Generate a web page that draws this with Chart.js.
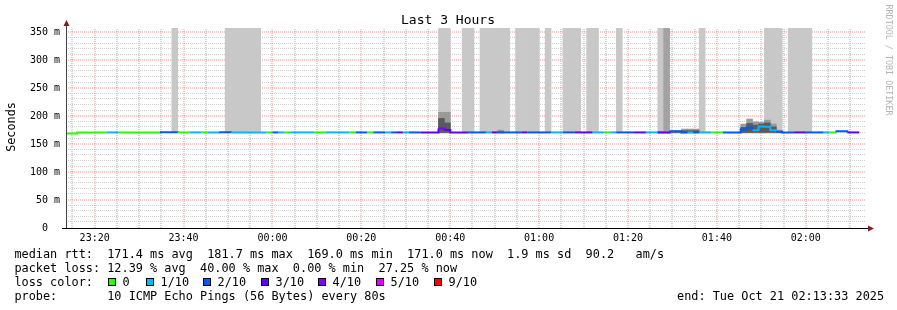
<!DOCTYPE html>
<html>
<head>
<meta charset="utf-8">
<title>Last 3 Hours</title>
<script src="https://cdn.jsdelivr.net/npm/chart.js@4"></script>
<style>
  html, body { margin: 0; padding: 0; background: #fff; }
  canvas { display: block; }
</style>
</head>
<body>
<canvas id="smoke" width="897" height="310"></canvas>
<script>
// times are minutes after 23:00 (Oct 20), one rrd step is 80 s
const axisStart = 13 + 33 / 60;   // 23:13:33
const axisEnd = axisStart + 180;  // 02:13:33
const firstStep = 13.36;
const stepLen = 80 / 60;

const timeTickMin = [20, 40, 60, 80, 100, 120, 140, 160, 180];
const timeTicks = ['23:20', '23:40', '00:00', '00:20', '00:40', '01:00', '01:20', '01:40', '02:00'];
const rttTickVals = [0, 50, 100, 150, 200, 250, 300, 350];
const rttTicks = ['0  ', '50 m', '100 m', '150 m', '200 m', '250 m', '300 m', '350 m'];

// lost pings (out of 10) per step
const lossCount = [
  0, 0, 0, 0, 0, 0, 0, 1, 1, 0,
  0, 0, 0, 0, 0, 0, 2, 2, 2, 0,
  0, 1, 1, 0, 1, 1, 2, 2, 1, 1,
  1, 1, 1, 1, 0, 2, 1, 0, 1, 1,
  1, 1, 0, 0, 1, 1, 1, 1, 0, 2,
  2, 0, 2, 2, 1, 2, 3, 1, 2, 2,
  3, 3, 3, 4, 3, 3, 3, 3, 2, 2,
  2, 1, 3, 2, 2, 2, 2, 3, 2, 2,
  2, 2, 1, 1, 2, 2, 3, 3, 3, 1,
  1, 0, 1, 2, 2, 2, 3, 3, 1, 1,
  3, 3, 2, 2, 2, 1, 2, 1, 1, 0,
  0, 2, 2, 2, 2, 2, 1, 1, 1, 1,
  2, 2, 2, 3, 3, 2, 2, 2, 1, 0,
  2, 2, 3, 3
];

// median rtt (ms) per step
const medianRtt = [
  169.0, 169.0, 171.0, 171.0, 171.0, 171.0, 171.0, 171.0, 171.0, 171.0,
  171.0, 171.0, 171.0, 171.0, 171.0, 171.0, 171.2, 171.2, 171.2, 171.0,
  171.0, 171.0, 171.0, 171.0, 171.0, 171.0, 171.2, 171.2, 171.0, 171.0,
  171.0, 171.0, 171.0, 171.0, 171.0, 171.0, 171.0, 171.0, 171.0, 171.0,
  171.0, 171.0, 171.0, 171.0, 171.0, 171.0, 171.0, 171.0, 171.0, 171.0,
  171.0, 171.0, 171.0, 171.0, 171.0, 171.0, 171.0, 171.0, 171.0, 171.0,
  171.0, 171.0, 171.0, 178.0, 175.5, 171.0, 171.0, 171.0, 171.0, 171.0,
  171.0, 171.0, 171.0, 171.0, 171.0, 171.0, 171.0, 171.0, 171.0, 171.0,
  171.0, 171.0, 171.0, 171.0, 171.0, 171.0, 171.0, 171.0, 171.0, 171.0,
  171.0, 171.0, 171.0, 171.0, 171.0, 171.0, 171.0, 171.0, 171.0, 171.0,
  171.0, 171.0, 173.0, 173.0, 171.0, 171.0, 171.0, 171.0, 171.0, 171.0,
  171.0, 171.0, 171.0, 171.0, 176.0, 180.0, 175.0, 181.7, 181.0, 175.0,
  172.0, 171.0, 171.0, 171.0, 171.0, 171.0, 171.0, 171.0, 171.0, 171.0,
  173.0, 173.0, 171.0, 171.0
];

// steps whose smoke reaches above the top of the graph
const tallSmokeSteps = [18, 27, 28, 29, 30, 31, 32, 63, 64, 67, 68, 70, 71, 72, 73, 74,
  76, 77, 78, 79, 81, 84, 85, 86, 88, 89, 93, 100, 107, 118, 119, 120, 122, 123, 124, 125];
const darkSmokeSteps = [101];

// ping spread (ms) around the median
const smokeSteps = [63, 64, 73, 100, 101, 102, 103, 104, 105, 106, 114, 115, 116, 117, 118, 119, 120];
const smokeLow = [170, 170, 170, 170, 170, 170, 170, 170, 170, 170, 170, 170, 170, 170, 170, 170, 170];
const smokeHigh = [207, 207, 175, 173, 173, 174, 174, 177, 177, 177, 186, 195, 190, 189, 193, 186, 175];
const coreHigh = [196, 188, 172, 171, 171, 172, 172, 174, 174, 174, 180, 187, 184, 186, 188, 181, 173];

const lossLabels = ['0', '1/10', '2/10', '3/10', '4/10', '5/10', '9/10'];
const lossColors = ['#26ff00', '#00b8ff', '#0059ff', '#5e00ff', '#7e00ff', '#dd00ff', '#ff0000'];

const mono = '"DejaVu Sans Mono", monospace';
const stepMid = k => firstStep + (k + 0.5) * stepLen;

const lineData = medianRtt.map((v, k) => ({ x: firstStep + k * stepLen, y: v }));
lineData.push({ x: firstStep + medianRtt.length * stepLen, y: medianRtt[medianRtt.length - 1] });

// rrdtool style dotted grid, placed with the chart scales
const rrdGrid = {
  id: 'rrdGrid',
  beforeDatasetsDraw(chart) {
    const c = chart.ctx;
    const a = chart.chartArea;
    const xs = chart.scales.x;
    const ys = chart.scales.y;
    c.save();
    c.lineWidth = 1;
    c.setLineDash([1, 1]);
    const vline = (m, col) => {
      const px = Math.round(xs.getPixelForValue(m));
      c.strokeStyle = col;
      c.beginPath();
      c.moveTo(px, a.bottom);
      c.lineTo(px, a.top);
      c.stroke();
    };
    const hline = (v, col, shift) => {
      const py = Math.round(ys.getPixelForValue(v)) + shift;
      c.strokeStyle = col;
      c.beginPath();
      c.moveTo(a.left, py);
      c.lineTo(a.right, py);
      c.stroke();
    };
    const minor = 'rgba(143,143,143,0.75)';
    const major = 'rgba(222,79,79,0.6)';
    for (let m = 15; m < axisEnd; m += 5) if (!timeTickMin.includes(m)) vline(m, minor);
    for (let v = 10; v <= 350; v += 10) if (!rttTickVals.includes(v)) hline(v, '#d0d0d0', -0.5);
    timeTickMin.forEach(m => vline(m, major));
    rttTickVals.forEach(v => { if (v > 0) hline(v, major, 0); });
    c.restore();
  }
};

const extras = {
  id: 'extras',
  beforeDraw(chart) {
    const c = chart.ctx;
    c.save();
    c.fillStyle = '#fff';
    c.fillRect(0, 0, chart.width, chart.height);
    c.restore();
  },
  afterDraw(chart) {
    const c = chart.ctx;
    const a = chart.chartArea;
    c.save();
    // axis extensions and arrows
    c.strokeStyle = '#000';
    c.lineWidth = 1;
    c.beginPath();
    c.moveTo(62, a.bottom + 0.5);
    c.lineTo(a.right + 3, a.bottom + 0.5);
    c.stroke();
    c.strokeStyle = '#444';
    c.beginPath();
    c.moveTo(a.left + 0.5, a.bottom);
    c.lineTo(a.left + 0.5, a.top - 5);
    c.stroke();
    c.fillStyle = '#801f1f';
    c.beginPath();
    c.moveTo(a.left - 2.5, a.top - 2);
    c.lineTo(a.left + 3.5, a.top - 2);
    c.lineTo(a.left + 0.5, a.top - 8);
    c.closePath();
    c.fill();
    c.beginPath();
    c.moveTo(a.right + 2, a.bottom - 2.5);
    c.lineTo(a.right + 2, a.bottom + 3.5);
    c.lineTo(a.right + 8, a.bottom + 0.5);
    c.closePath();
    c.fill();

    // title
    c.fillStyle = '#000';
    c.font = '13px ' + mono;
    c.textAlign = 'center';
    c.textBaseline = 'alphabetic';
    c.fillText('Last 3 Hours', 448, 24);

    // y title
    c.save();
    c.translate(15, 127);
    c.rotate(-Math.PI / 2);
    c.font = '11.8px ' + mono;
    c.fillText('Seconds', 0, 0);
    c.restore();

    // watermark
    c.save();
    c.translate(886, 60);
    c.rotate(Math.PI / 2);
    c.font = '8.4px ' + mono;
    c.fillStyle = '#b4b4b4';
    c.fillText('RRDTOOL / TOBI OETIKER', 0, 0);
    c.restore();

    // legend
    c.font = '11.86px ' + mono;
    c.textAlign = 'left';
    c.fillStyle = '#000';
    const x0 = 14.4;
    c.fillText('median rtt:  171.4 ms avg  181.7 ms max  169.0 ms min  171.0 ms now  1.9 ms sd  90.2   am/s', x0, 258);
    c.fillText('packet loss: 12.39 % avg  40.00 % max  0.00 % min  27.25 % now', x0, 272);
    c.fillText('loss color:', x0, 286);
    c.fillText('probe:       10 ICMP Echo Pings (56 Bytes) every 80s', x0, 300);
    c.fillText('end: Tue Oct 21 02:13:33 2025', 677, 300);

    const boxX = [108, 146, 203, 261, 318, 376, 434];
    lossLabels.forEach((lbl, i) => {
      c.fillStyle = lossColors[i];
      c.fillRect(boxX[i] + 0.5, 278.5, 7, 7);
      c.strokeStyle = '#000';
      c.strokeRect(boxX[i] + 0.5, 278.5, 7, 7);
      c.fillStyle = '#000';
      c.fillText(lbl, boxX[i] + 14.5, 286);
    });
    c.restore();
  }
};

const tickFont = { family: mono, size: 10 };

new Chart(document.getElementById('smoke'), {
  type: 'line',
  data: {
    datasets: [
      {
        type: 'line',
        order: 0,
        data: lineData,
        stepped: 'before',
        borderWidth: 2,
        borderCapStyle: 'butt',
        pointRadius: 0,
        borderColor: lossColors[0],
        segment: {
          borderColor: ctx => lossColors[lossCount[ctx.p0DataIndex]] || lossColors[0]
        }
      },
      {
        type: 'bar',
        order: 1,
        data: smokeSteps.map((k, i) => ({ x: stepMid(k), y: [smokeLow[i] + 1, coreHigh[i]] })),
        backgroundColor: '#5a5a5a'
      },
      {
        type: 'bar',
        order: 2,
        data: smokeSteps.map((k, i) => ({ x: stepMid(k), y: [smokeLow[i], smokeHigh[i]] })),
        backgroundColor: '#9a9a9a'
      },
      {
        type: 'bar',
        order: 3,
        data: darkSmokeSteps.map(k => ({ x: stepMid(k), y: [171, 360] })),
        backgroundColor: '#a2a2a2'
      },
      {
        type: 'bar',
        order: 4,
        data: tallSmokeSteps.map(k => ({ x: stepMid(k), y: [171, 360] })),
        backgroundColor: '#c8c8c8'
      }
    ]
  },
  options: {
    responsive: false,
    animation: false,
    devicePixelRatio: 1,
    datasets: {
      bar: { grouped: false, barPercentage: 1, categoryPercentage: 1, borderWidth: 0 }
    },
    layout: { padding: { left: 0, right: 31, top: 28, bottom: 0 } },
    plugins: { legend: { display: false }, tooltip: { enabled: false }, title: { display: false } },
    scales: {
      x: {
        type: 'linear',
        position: 'bottom',
        min: axisStart,
        max: axisEnd,
        offset: false,
        afterFit: s => { s.height = 82; },
        afterBuildTicks: s => { s.ticks = timeTickMin.map(v => ({ value: v })); },
        grid: { display: false, drawTicks: false },
        border: { display: false },
        ticks: {
          autoSkip: false,
          maxRotation: 0,
          padding: 4,
          color: '#000',
          font: tickFont,
          callback: v => timeTicks[timeTickMin.indexOf(v)]
        }
      },
      y: {
        type: 'linear',
        position: 'left',
        min: 0,
        max: 357.8,
        afterFit: s => { s.width = 66; },
        afterBuildTicks: s => { s.ticks = rttTickVals.map(v => ({ value: v })); },
        grid: { display: false, drawTicks: false },
        border: { display: false },
        ticks: {
          autoSkip: false,
          padding: 6,
          color: '#000',
          font: tickFont,
          callback: v => rttTicks[rttTickVals.indexOf(v)]
        }
      }
    }
  },
  plugins: [rrdGrid, extras]
});
</script>
</body>
</html>
